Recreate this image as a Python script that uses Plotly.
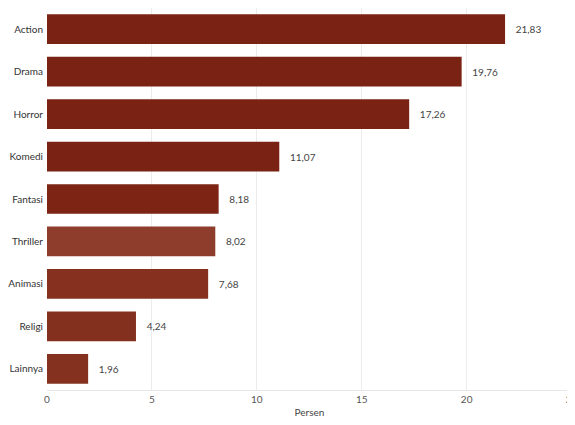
import plotly.graph_objects as go

categories = ["Action", "Drama", "Horror", "Komedi", "Fantasi", "Thriller", "Animasi", "Religi", "Lainnya"]
values = [21.83, 19.76, 17.26, 11.07, 8.18, 8.02, 7.68, 4.24, 1.96]
bar_colors = ["#7a2213", "#7a2213", "#7a2213", "#7a2213", "#7d2414", "#8e3c2c", "#86301f", "#83301f", "#84321f"]
tick_vals = [0, 5, 10, 15, 20, 25]

labels = ["   " + f"{v:.2f}".replace(".", ",") for v in values]

FONT = "Lato"

fig = go.Figure(go.Bar(
    x=values,
    y=categories,
    orientation="h",
    marker=dict(color=bar_colors, line=dict(width=0)),
    width=0.7,
    text=labels,
    textposition="outside",
    textfont=dict(size=10, color="#444444", family=FONT),
    cliponaxis=False,
))

# page body has an 8px margin, so the figure is sized to fit the window
fig.update_layout(
    width=567, height=417,
    margin=dict(l=39, r=3, t=0, b=35, autoexpand=False),
    paper_bgcolor="white",
    plot_bgcolor="white",
    font=dict(family=FONT, size=10, color="#444444"),
    showlegend=False,
    bargap=0.3,
)
fig.update_xaxes(
    range=[0, 25.02], tickvals=tick_vals, ticktext=[str(t) for t in tick_vals],
    showgrid=True, gridcolor="#ececec", gridwidth=1, automargin=False,
    zeroline=False, showline=True, linecolor="#e6e6e6",
    ticklabeloverflow="allow",
    title=dict(text="Persen", font=dict(size=10, color="#444444"), standoff=4),
    tickfont=dict(size=10, color="#555555"),
)
fig.update_yaxes(
    categoryorder="array", categoryarray=categories[::-1], automargin=False,
    showgrid=False, zeroline=False, ticks="", ticklabelstandoff=3,
    tickfont=dict(size=10, color="#333333"),
)

fig.write_html("out.html")
